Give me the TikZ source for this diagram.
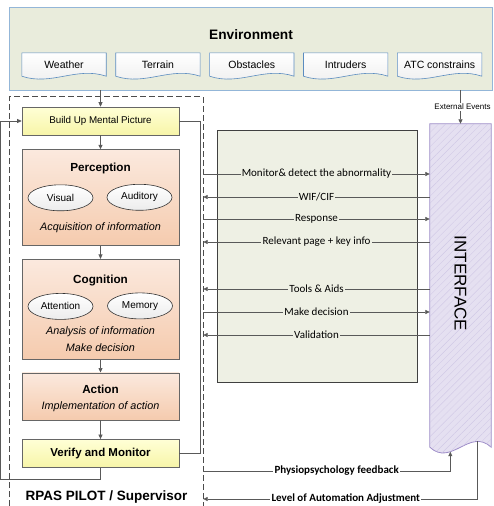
\documentclass[tikz,border=0pt]{standalone}
\usepackage{fontspec}
\setmainfont{Liberation Sans}
\newfontfamily\labelfont{Carlito}
\definecolor{EnvFill}{HTML}{E9ECDC}
\definecolor{EnvLine}{HTML}{93B6D8}
\definecolor{DocLine}{HTML}{5B8CC0}
\definecolor{PanelFill}{HTML}{EEF0E4}
\definecolor{StageTop}{HTML}{FBE9DE}
\definecolor{StageBot}{HTML}{F5CBAE}
\definecolor{MentalTop}{HTML}{FFFFD6}
\definecolor{MentalBot}{HTML}{F7F5A8}
\definecolor{IfaceFill}{HTML}{E5E0F1}
\definecolor{IfaceLine}{HTML}{9D8CC8}
\definecolor{IfaceHatch}{HTML}{CCC3E4}
\definecolor{LineGray}{HTML}{595959}
\usetikzlibrary{positioning,calc,arrows.meta,shapes.geometric,backgrounds,patterns.meta}

\begin{document}
\begin{tikzpicture}
[x=1pt,y=-1pt,
   envline/.style={draw=EnvLine,fill=EnvFill,line width=.8pt},
   docbox/.style={rectangle,minimum width=84pt,minimum height=23pt,inner sep=0pt,
   font=\fontsize{10.5}{12}\selectfont},
   docline/.style={draw=DocLine,line width=.6pt,top color=white,bottom color=gray!14},
   stage/.style={rectangle,draw=gray!80!black,line width=.6pt,top color=StageTop,
   bottom color=StageBot,minimum width=157pt},
   mental/.style={rectangle,draw=gray!80!black,line width=.6pt,top color=MentalTop,
   bottom color=MentalBot,minimum width=157pt,minimum height=28pt},
   hd/.style={font=\bfseries\fontsize{11.7}{14}\selectfont},
   it/.style={font=\itshape\fontsize{10.8}{17}\selectfont,align=center},
   oval/.style={ellipse,draw=black!80,line width=.6pt,top color=white,bottom color=gray!15,
   minimum width=65pt,minimum height=26pt,inner sep=0pt,font=\fontsize{10}{12}\selectfont},
   panel/.style={rectangle,draw=black!75,line width=.8pt,fill=PanelFill},
   ifaceline/.style={draw=IfaceLine,line width=.8pt,fill=IfaceFill,
   postaction={pattern={Lines[angle=45,distance=5pt,line width=.25pt]},pattern color=IfaceHatch}},
   flow/.style={draw=LineGray,line width=.7pt,>={Triangle[length=4.5pt,width=4pt]}},
   lb/.style={text=black,fill=PanelFill,inner sep=1.2pt,font=\labelfont\fontsize{11}{12}\selectfont},
   lbb/.style={text=black,fill=white,inner sep=1.2pt,font=\labelfont\bfseries\fontsize{11}{12}\selectfont}]
\useasboundingbox (0,0) rectangle (494,506);

% environment
\node[minimum width=482pt,minimum height=82pt,inner sep=0pt] (env) at (251,49) {};
\node[font=\bfseries\fontsize{13.7}{16}\selectfont] (envtitle) at ($(env.north)+(0,27)$) {Environment};
\node[docbox] (weather) at (64,64.5) {Weather};
\node[docbox,right=9.5pt of weather] (terrain) {Terrain};
\node[docbox,right=9.5pt of terrain] (obstacles) {Obstacles};
\node[docbox,right=9.5pt of obstacles] (intruders) {Intruders};
\node[docbox,right=9.5pt of intruders] (atc) {ATC constrains};

% pilot side
\node[minimum width=193pt,minimum height=409pt,inner sep=0pt] (pilot) at (106.5,301.5) {};
\draw[draw=black!70,line width=.8pt,dash pattern=on 6pt off 3pt]
   (pilot.south west) |- (pilot.north east) -- (pilot.south east);
\node[font=\bfseries\fontsize{13.5}{16}\selectfont] (pilotlbl) at ($(pilot.south)+(0,-9)$)
   {RPAS PILOT / Supervisor};

\node[mental,font=\fontsize{9.8}{12}\selectfont] (build) at (100.5,121) {Build Up Mental Picture};
\node[stage,minimum height=96pt,below=14pt of build] (perc) {};
\node[stage,minimum height=100pt,below=13pt of perc] (cogn) {};
\node[stage,minimum height=47pt,below=13pt of cogn] (act) {};
\node[mental,font=\bfseries\fontsize{11.5}{14}\selectfont,below=19pt of act] (verify) {Verify and Monitor};

\node[hd] (perctitle) at ($(perc.north)+(0,19)$) {Perception};
\node[oval] (visual) at ($(perc.north)+(-40,48.5)$) {Visual};
\node[oval] (auditory) at ($(perc.north)+(39,48)$) {Auditory};
\node[it] (acq) at ($(perc.north)+(0,78)$) {Acquisition of information};

\node[hd] (cogntitle) at ($(cogn.north)+(0,22)$) {Cognition};
\node[oval] (attention) at ($(cogn.north)+(-40,47.5)$) {Attention};
\node[oval] (memory) at ($(cogn.north)+(39.5,47)$) {Memory};
\node[it] (analysis) at ($(cogn.north)+(0,80.5)$) {Analysis of information\\Make decision};

\node[hd] (acttitle) at ($(act.north)+(0,17)$) {Action};
\node[it] (impl) at ($(act.north)+(0,34)$) {Implementation of action};

\draw[flow,->] (env.south -| build.north) -- (build);
\draw[flow,->] (build) -- (perc);
\draw[flow,->] (perc) -- (cogn);
\draw[flow,->] (cogn) -- (act);
\draw[flow,->] (act) -- (verify);
\draw[flow,->] (verify.south) -- ++(0,12) -| ([xshift=-21pt]build.west) -- (build.west);
\draw[flow] (build.east) -- ++(21,0) |- (verify.east);

% middle and interface
\node[panel,minimum width=200pt,minimum height=252pt,anchor=north west] (panel) at (217,130) {};
\node[minimum width=61pt,minimum height=323pt,inner sep=0pt] (iface) at (460.5,285.5) {};
\node[rotate=-90,font=\fontsize{17}{20}\selectfont] (ifacelbl) at ([yshift=2pt]iface.center) {INTERFACE};
\coordinate (ifaceP) at ($(iface.south west)!.334!(iface.south east)+(0,4.5)$);
\coordinate (ifaceL) at ($(iface.south west)!.775!(iface.south east)+(0,-5.8)$);

\begin{pgfonlayer}{background}
   \draw[envline] (env.north west) rectangle (env.south east);
   \foreach \n in {weather,terrain,obstacles,intruders,atc}
   \draw[docline] (\n.north west) -- (\n.south west)
      .. controls ($(\n.south west)!.35!(\n.south east)+(0,10)$)
      and ($(\n.south west)!.65!(\n.south east)+(0,-10)$) .. (\n.south east)
      -- (\n.north east) -- cycle;
   \draw[ifaceline] (iface.north west) -- (iface.south west)
      .. controls ($(iface.south west)!.35!(iface.south east)+(0,20)$)
      and ($(iface.south west)!.65!(iface.south east)+(0,-20)$) .. (iface.south east)
      -- (iface.north east) -- cycle;
\end{pgfonlayer}

\draw[flow,->] (env.south -| iface.north) -- (iface.north)
   node[midway,fill=white,inner sep=1pt,xshift=2pt,font=\fontsize{8}{9}\selectfont] {External Events};

\draw[flow,->] (pilot.east |- 0,174) -- (iface.west |- 0,174) node[lb,midway] {Monitor\& detect the abnormality};
\draw[flow,<-] (pilot.east |- 0,197) -- (iface.west |- 0,197) node[lb,midway] {WIF/CIF};
\draw[flow,->] (pilot.east |- 0,219) -- (iface.west |- 0,219) node[lb,midway] {Response};
\draw[flow,<-] (pilot.east |- 0,242) -- (iface.west |- 0,242) node[lb,midway] {Relevant page + key info};
\draw[flow,<-] (pilot.east |- 0,289) -- (iface.west |- 0,289) node[lb,midway] {Tools \& Aids};
\draw[flow,->] (pilot.east |- 0,312) -- (iface.west |- 0,312) node[lb,midway] {Make decision};
\draw[flow,<-] (pilot.east |- 0,335) -- (iface.west |- 0,335) node[lb,midway] {Validation};

\draw[flow,->] (pilot.east |- 0,471) -| (ifaceP) node[lbb,pos=.27] {Physiopsychology feedback};
\draw[flow,->] (ifaceL) |- (pilot.east |- 0,499) node[lbb,pos=.74] {Level of Automation Adjustment};
%%
\end{tikzpicture}
\end{document}
